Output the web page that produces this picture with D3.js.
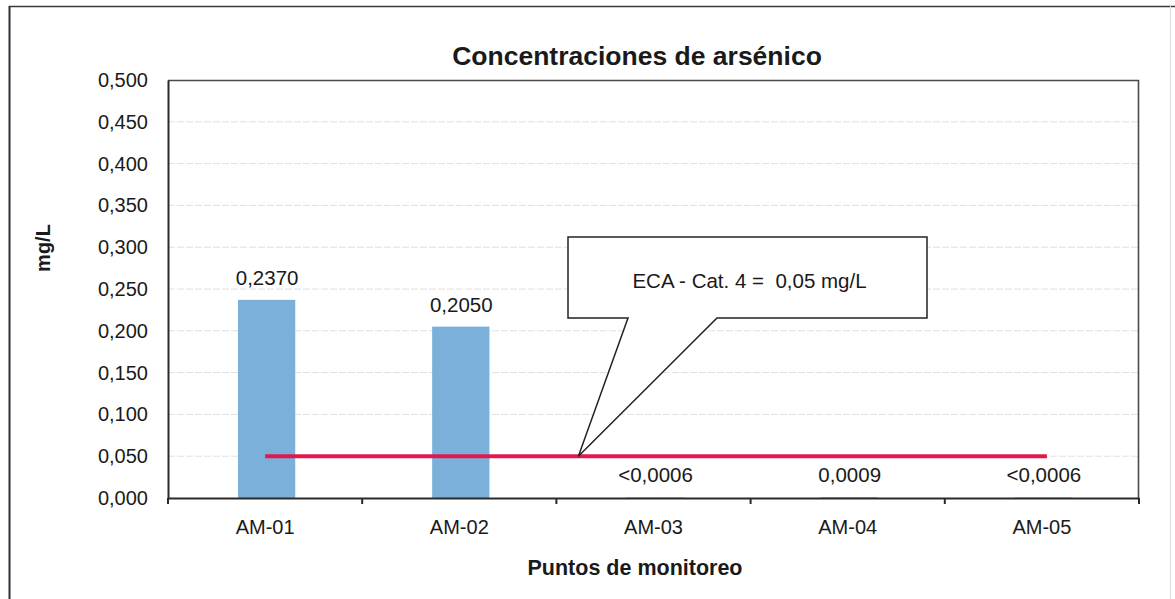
<!DOCTYPE html>
<html lang="es">
<head>
<meta charset="utf-8">
<title>Concentraciones de arsénico</title>
<script src="https://cdn.jsdelivr.net/npm/d3@7"></script>
<style>
  html, body { margin: 0; padding: 0; background: #ffffff; }
  svg { display: block; font-family: "Liberation Sans", Arial, sans-serif; }
  .callout-text { white-space: pre; }
</style>
</head>
<body>
<svg id="chart" width="1175" height="599"></svg>
<script>
// Monitoring points and measured arsenic concentrations (mg/L)
const puntos = ["AM-01", "AM-02", "AM-03", "AM-04", "AM-05"];
const arsenico = [0.2370, 0.2050, 0.0006, 0.0009, 0.0006];
// true where the result is below the detection limit ("<")
const bajoLimite = [false, false, true, false, true];
// Y axis ticks
const yTicks = [0, 0.05, 0.10, 0.15, 0.20, 0.25, 0.30, 0.35, 0.40, 0.45, 0.50];
// Environmental quality standard, category 4
const eca = 0.05;
const ecaTexto = "ECA - Cat. 4 =  0,05 mg/L";

const svg = d3.select("#chart");
const W = 1175, H = 599;
const margin = { left: 168, top: 80, right: 1175 - 1139, bottom: 599 - 498 };
const innerW = W - margin.left - margin.right;
const innerH = H - margin.top - margin.bottom;

const es = d3.formatLocale({ decimal: ",", thousands: ".", grouping: [3], currency: ["", ""] });
const fmtTick = es.format(".3f");
const fmtVal = es.format(".4f");

// Outer chart border
svg.append("line").attr("x1", 9).attr("x2", 1175).attr("y1", 6.5).attr("y2", 6.5)
  .attr("stroke", "#3a3a3a").attr("stroke-width", 1.6);
svg.append("line").attr("x1", 9.5).attr("x2", 9.5).attr("y1", 6).attr("y2", H)
  .attr("stroke", "#2e2e3a").attr("stroke-width", 2);
svg.append("line").attr("x1", 1170.5).attr("x2", 1170.5).attr("y1", 6).attr("y2", H)
  .attr("stroke", "#dcdcdc").attr("stroke-width", 1);

const g = svg.append("g").attr("transform", `translate(${margin.left},${margin.top})`);

const x = d3.scaleBand().domain(puntos).range([0, innerW]).paddingInner(0).paddingOuter(0);
const y = d3.scaleLinear().domain([0, 0.5]).range([innerH, 0]);

// Horizontal gridlines
g.append("g").selectAll("line").data(yTicks.filter(d => d > 0 && d < 0.5)).join("line")
  .attr("x1", 0).attr("x2", innerW)
  .attr("y1", d => y(d)).attr("y2", d => y(d))
  .attr("stroke", "#e0e0e0").attr("stroke-width", 1)
  .attr("stroke-dasharray", "7,2");

// Plot area frame (top and right)
g.append("path")
  .attr("d", `M0,0.5H${innerW - 0.5}V${innerH}`)
  .attr("fill", "none").attr("stroke", "#4a4a4a").attr("stroke-width", 1.6);

// Bars
const barW = x.bandwidth() * 0.295;
g.append("g").selectAll("rect").data(puntos).join("rect")
  .attr("x", (d, i) => x(d) + x.bandwidth() / 2 - barW / 2 + 1.5)
  .attr("width", barW)
  .attr("y", (d, i) => y(arsenico[i]))
  .attr("height", (d, i) => innerH - y(arsenico[i]))
  .attr("fill", "#7ab0da");

// Value labels
g.append("g").selectAll("text").data(puntos).join("text")
  .attr("x", d => x(d) + x.bandwidth() / 2 + 2)
  .attr("y", (d, i) => y(arsenico[i]) - 15)
  .attr("text-anchor", "middle")
  .attr("font-size", 20.5)
  .attr("fill", "#1a1a1a")
  .text((d, i) => (bajoLimite[i] ? "<" : "") + fmtVal(arsenico[i]));

// ECA reference line between the first and last monitoring points
g.append("line")
  .attr("x1", x(puntos[0]) + x.bandwidth() / 2)
  .attr("x2", x(puntos[puntos.length - 1]) + x.bandwidth() / 2 + 5)
  .attr("y1", y(eca)).attr("y2", y(eca))
  .attr("stroke", "#e2184d").attr("stroke-width", 4);

// Y axis
const yAxis = g.append("g")
  .call(d3.axisLeft(y).tickValues(yTicks).tickFormat(fmtTick).tickSize(0).tickPadding(20));
yAxis.select(".domain").attr("stroke", "#2a2a2a").attr("stroke-width", 2);
yAxis.selectAll("text").attr("font-size", 20).attr("fill", "#1a1a1a")
  .attr("font-family", "'Liberation Sans', Arial, sans-serif");

// X axis
const xAxis = g.append("g").attr("transform", `translate(0,${innerH})`)
  .call(d3.axisBottom(x).tickSize(0).tickPadding(22));
xAxis.select(".domain").attr("stroke", "#2a2a2a").attr("stroke-width", 2.2);
xAxis.selectAll("text").attr("font-size", 20).attr("fill", "#1a1a1a")
  .attr("font-family", "'Liberation Sans', Arial, sans-serif");
// Category separators below the axis
const bounds = puntos.map(d => x(d)).concat([innerW]);
xAxis.append("g").selectAll("line").data(bounds).join("line")
  .attr("x1", d => d).attr("x2", d => d)
  .attr("y1", 0).attr("y2", 6)
  .attr("stroke", "#2a2a2a").attr("stroke-width", 2);

// Callout for the ECA line
const tipX = x(puntos[2]) + 22, tipY = y(eca);
const bx0 = 400, bx1 = 759, by0 = 157, by1 = 238;
const p0 = 460, p1 = 549;
g.append("path")
  .attr("d", `M${bx0},${by0}H${bx1}V${by1}H${p1}L${tipX},${tipY}L${p0},${by1}H${bx0}Z`)
  .attr("fill", "#ffffff").attr("stroke", "#222222").attr("stroke-width", 1.5)
  .attr("stroke-linejoin", "miter");
g.append("text").attr("class", "callout-text")
  .attr("x", (bx0 + bx1) / 2 + 2).attr("y", 208)
  .attr("text-anchor", "middle").attr("font-size", 20.5).attr("fill", "#1a1a1a")
  .text(ecaTexto);

// Titles
svg.append("text").attr("x", 637).attr("y", 65).attr("text-anchor", "middle")
  .attr("font-size", 26.5).attr("font-weight", "bold").attr("fill", "#1a1a1a")
  .text("Concentraciones de arsénico");
svg.append("text").attr("x", 635).attr("y", 575).attr("text-anchor", "middle")
  .attr("font-size", 21.5).attr("font-weight", "bold").attr("fill", "#1a1a1a")
  .text("Puntos de monitoreo");
svg.append("text").attr("transform", "translate(50,248) rotate(-90)")
  .attr("text-anchor", "middle")
  .attr("font-size", 20).attr("font-weight", "bold").attr("fill", "#1a1a1a")
  .text("mg/L");
</script>
</body>
</html>
